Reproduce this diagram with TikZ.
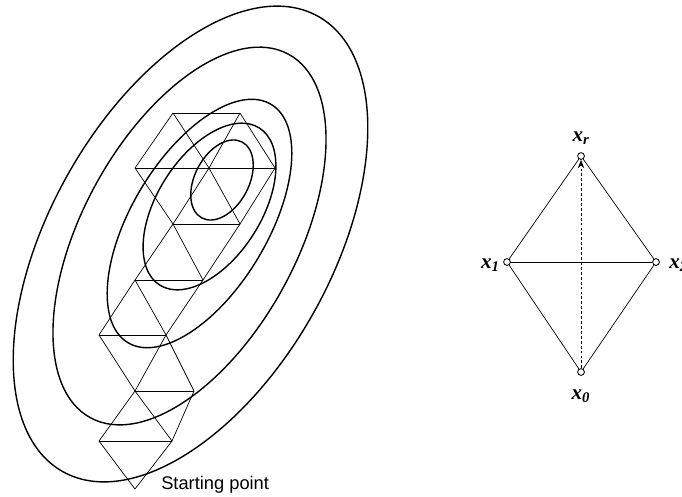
\documentclass[tikz,border=0pt]{standalone}
\usepackage{fontspec}
\setmainfont{Liberation Serif}
\setsansfont{Liberation Sans}
\usetikzlibrary{arrows.meta}

\tikzset{
    contour/.style={line width=1pt},
    simplex/.style={line width=0.5pt},
    vertex/.style={circle, draw, line width=0.6pt, fill=white, inner sep=0pt, minimum size=0.17cm},
    vlabel/.style={font=\fontsize{15}{18}\selectfont\bfseries\itshape, inner sep=0pt},
}

\begin{document}
\begin{tikzpicture}[x=0.025cm, y=-0.025cm]
        \useasboundingbox (0,0) rectangle (682,496);

        % Contour lines of the objective
        \draw[contour, shift={(190.5,244)}, rotate=60.7] (0,0) ellipse (261 and 141);
        \draw[contour, shift={(189.5,236)}, rotate=61.4] (0,0) ellipse (207 and 107);
        \draw[contour, shift={(199.5,223.5)}, rotate=59] (0,0) ellipse (139 and 68);
        \draw[contour, shift={(209.5,206.5)}, rotate=57.6] (0,0) ellipse (93 and 52);
        \draw[contour, shift={(222,180)}, rotate=62] (0,0) ellipse (43 and 27);

        % Vertices of the simplex path
        \coordinate (a0) at (135,489);
        \coordinate (b1) at (99,441);  \coordinate (b2) at (172,441);
        \coordinate (c1) at (135,391); \coordinate (c2) at (194,391);
        \coordinate (d1) at (99,335);  \coordinate (d2) at (166,335);
        \coordinate (e1) at (135,280); \coordinate (e2) at (203,280);
        \coordinate (f1) at (173,224); \coordinate (f2) at (240,224);
        \coordinate (g1) at (135,168); \coordinate (g2) at (209,168); \coordinate (g3) at (275,168);
        \coordinate (h1) at (173,113); \coordinate (h2) at (240,113);

        % Edges of the triangles
        \foreach \u/\v in {a0/b1, a0/b2, b1/b2, b1/c1, b2/c1, b2/c2, c1/c2,
                c1/d1, c1/d2, c2/d2, d1/d2, d1/e1, d2/e1, d2/e2, e1/e2,
                e1/f1, e2/f1, e2/f2, f1/f2, f1/g1, f1/g2, f2/g2, f2/g3, g1/g3,
                g1/h1, g2/h1, g2/h2, g3/h2, h1/h2}
            \draw[simplex] (\u) -- (\v);

        \node[anchor=base west, inner sep=0pt, font=\sffamily\fontsize{13}{15}\selectfont] (start) at (161,489) {Starting point};

        % Single reflection step
        \node[vertex] (xr) at (581,156) {};
        \node[vertex] (x1) at (507,262) {};
        \node[vertex] (x2) at (656,262) {};
        \node[vertex] (x0) at (581,372) {};
        \draw[simplex] (x1) -- (xr) -- (x2);
        \draw[simplex] (x1) -- (x0) -- (x2);
        \draw[simplex] (x1) -- (x2);
        \draw[simplex, dash pattern=on 2pt off 1.5pt, -{Stealth[length=6pt, width=4.5pt]}] (x0) -- (xr);

        \node[vlabel] (lr) at (581,138) {x\textsubscript{r}};
        \node[vlabel, anchor=east] (l1) at (500,265) {x\textsubscript{1}};
        \node[vlabel, anchor=west] (l2) at (669,265) {x\textsubscript{2}};
        \node[vlabel] (l0) at (581,396) {x\textsubscript{0}};
    \end{tikzpicture}
\end{document}
